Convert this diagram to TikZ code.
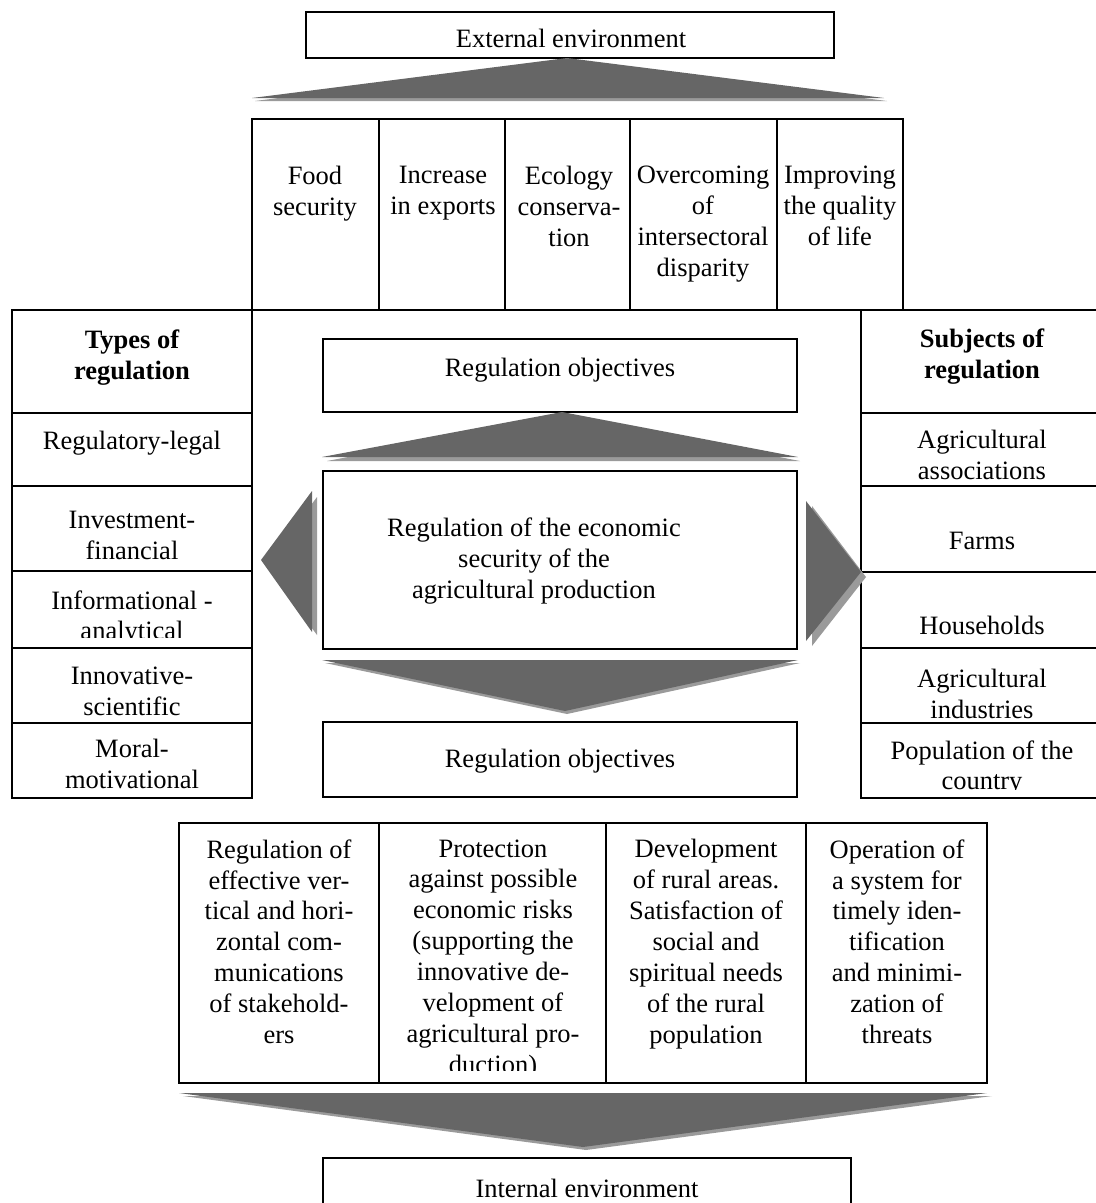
\documentclass[tikz,border=0pt]{standalone}
\usepackage{fontspec}
\setmainfont{Liberation Serif}
\usetikzlibrary{fit}

\definecolor{arrowdark}{HTML}{666666}
\definecolor{arrowlight}{HTML}{9A9A9A}

\tikzset{
  cell/.style={draw, line width=0.8pt, inner sep=0pt},
  lbl/.style={align=center, inner sep=0pt, font=\fontsize{12}{14}\selectfont},
  headlbl/.style={lbl, font=\fontsize{12}{14}\selectfont\bfseries},
  bigarrow/.style={fill=arrowdark},
  arrowshade/.style={fill=arrowlight}
}

\begin{document}
\begin{tikzpicture}[x=0.4528pt, y=-0.4528pt]
        \clip (0,0) rectangle (1096,1203);

        % External environment and the big arrow under it
        \node[cell, fit={(306,12) (834,58)}] (ext) {};
        \node[lbl] (extlbl) at (571,38) {External environment};
        \fill[arrowshade] (255,101) -- (569,61) -- (887,101) -- cycle;
        \fill[bigarrow] (252,98) -- (567,58) -- (884,98) -- cycle;

        % Top row
        \node[cell, fit={(252,119) (379,310)}] (t1) {};
        \node[cell, fit={(379,119) (505,310)}] (t2) {};
        \node[cell, fit={(505,119) (630,310)}] (t3) {};
        \node[cell, fit={(630,119) (777,310)}] (t4) {};
        \node[cell, fit={(777,119) (903,310)}] (t5) {};
        \node[lbl, anchor=north] (t1lbl) at (315,166) {Food\\security};
        \node[lbl, anchor=north] (t2lbl) at (443,166) {Increase\\in exports};
        \node[lbl, anchor=north] (t3lbl) at (569,166) {Ecology\\conserva-\\tion};
        \node[lbl, anchor=north] (t4lbl) at (703,166) {Overcoming\\of\\intersectoral\\disparity};
        \node[lbl, anchor=north] (t5lbl) at (840,166) {Improving\\the quality\\of life};

        % Types of regulation
        \node[cell, fit={(12,310) (252,413)}] (types) {};
        \node[cell, fit={(12,413) (252,486)}] (ty1) {};
        \node[cell, fit={(12,486) (252,571)}] (ty2) {};
        \node[cell, fit={(12,571) (252,648)}] (ty3) {};
        \node[cell, fit={(12,648) (252,723)}] (ty4) {};
        \node[cell, fit={(12,723) (252,798)}] (ty5) {};
        \node[headlbl] (typeslbl) at (132,358) {Types of\\regulation};
        \node[lbl] (ty1lbl) at (132,443) {Regulatory-legal};
        \node[lbl] (ty2lbl) at (132,535) {Investment-\\financial};
        \begin{scope}
          \clip (12,571) rectangle (252,637);
          \node[lbl] (ty3lbl) at (132,618) {Informational -\\analytical};
        \end{scope}
        \node[lbl] (ty4lbl) at (132,691) {Innovative-\\scientific};
        \node[lbl] (ty5lbl) at (132,764) {Moral-\\motivational};

        % Subjects of regulation
        \node[cell, fit={(861,310) (1104,413)}] (subj) {};
        \node[cell, fit={(861,413) (1104,486)}] (su1) {};
        \node[cell, fit={(861,486) (1104,572)}] (su2) {};
        \node[cell, fit={(861,572) (1104,648)}] (su3) {};
        \node[cell, fit={(861,648) (1104,723)}] (su4) {};
        \node[cell, fit={(861,723) (1104,798)}] (su5) {};
        \node[headlbl] (subjlbl) at (982,357) {Subjects of\\regulation};
        \node[lbl] (su1lbl) at (982,455) {Agricultural\\associations};
        \node[lbl] (su2lbl) at (982,541) {Farms};
        \node[lbl] (su3lbl) at (982,625) {Households};
        \node[lbl] (su4lbl) at (982,694) {Agricultural\\industries};
        \begin{scope}
          \clip (861,723) rectangle (1104,789);
          \node[lbl] (su5lbl) at (982,768) {Population of the\\country};
        \end{scope}

        % Middle block
        \node[cell, fit={(323,339) (797,412)}] (obj1) {};
        \node[lbl] (obj1lbl) at (560,370) {Regulation objectives};
        \fill[arrowshade] (327,461) -- (564,416) -- (800,461) -- cycle;
        \fill[bigarrow] (322,457) -- (562,412) -- (798,457) -- cycle;
        \node[cell, fit={(323,471) (797,649)}] (core) {};
        \node[lbl] (corelbl) at (534,561) {Regulation of the economic\\security of the\\agricultural production};
        \fill[arrowshade] (325,663) -- (800,663) -- (567,714) -- cycle;
        \fill[bigarrow] (322,660) -- (798,660) -- (565,711) -- cycle;
        \node[cell, fit={(323,722) (797,797)}] (obj2) {};
        \node[lbl] (obj2lbl) at (560,761) {Regulation objectives};

        % side arrows
        \fill[arrowshade] (317,497) -- (266,566) -- (317,635) -- cycle;
        \fill[bigarrow] (312,491) -- (261,560) -- (312,632) -- cycle;
        \fill[arrowshade] (812,506) -- (866,577) -- (812,646) -- cycle;
        \fill[bigarrow] (806,501) -- (861,572) -- (806,641) -- cycle;

        % Bottom row
        \node[cell, fit={(179,823) (379,1083)}] (b1) {};
        \node[cell, fit={(379,823) (606,1083)}] (b2) {};
        \node[cell, fit={(606,823) (806,1083)}] (b3) {};
        \node[cell, fit={(806,823) (987,1083)}] (b4) {};
        \node[lbl, anchor=north] (b1lbl) at (279,839) {Regulation of\\effective ver-\\tical and hori-\\zontal com-\\munications\\of stakehold-\\ers};
        \begin{scope}
          \clip (379,823) rectangle (606,1070);
          \node[lbl, anchor=north] (b2lbl) at (493,839) {Protection\\against possible\\economic risks\\(supporting the\\innovative de-\\velopment of\\agricultural pro-\\duction)};
        \end{scope}
        \node[lbl, anchor=north] (b3lbl) at (706,839) {Development\\of rural areas.\\Satisfaction of\\social and\\spiritual needs\\of the rural\\population};
        \node[lbl, anchor=north] (b4lbl) at (897,839) {Operation of\\a system for\\timely iden-\\tification\\and minimi-\\zation of\\threats};

        % Internal environment
        \fill[arrowshade] (183,1096) -- (992,1096) -- (586,1150) -- cycle;
        \fill[bigarrow] (179,1093) -- (987,1093) -- (583,1147) -- cycle;
        \node[cell, fit={(323,1158) (851,1215)}] (int) {};
        \node[lbl] (intlbl) at (587,1188) {Internal environment};
\end{tikzpicture}
\end{document}
